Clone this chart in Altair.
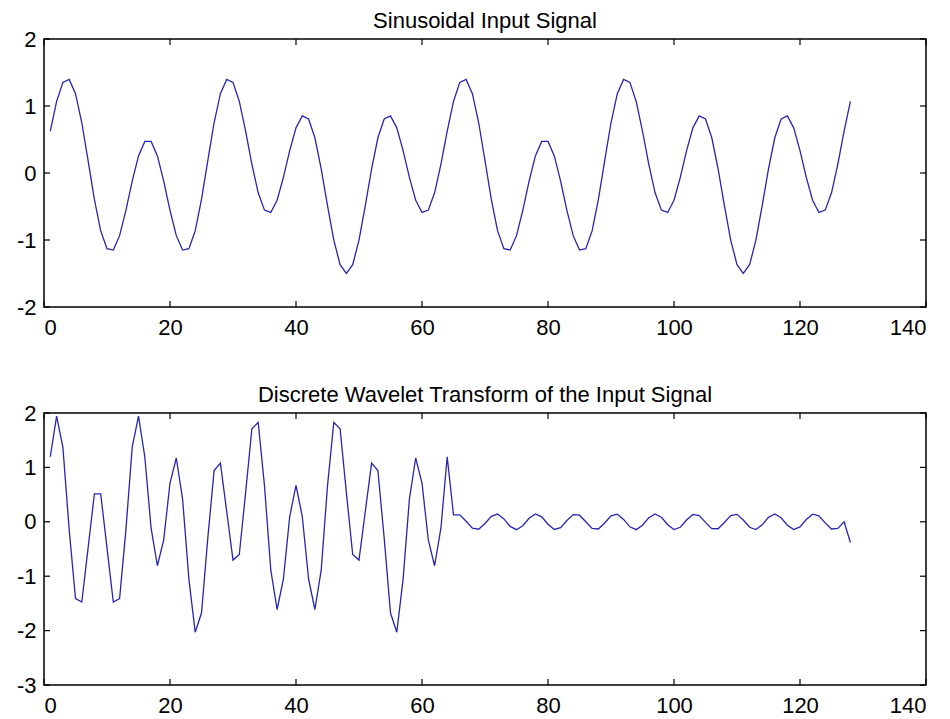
import altair as alt
import pandas as pd

# ---- data ----
sample_index = list(range(1, 129))

input_signal = [
    0.624, 1.068, 1.352, 1.397, 1.184, 0.750, 0.184, -0.394, -0.864, -1.130,
    -1.150, -0.935, -0.557, -0.121, 0.255, 0.472, 0.472, 0.255, -0.121, -0.557,
    -0.935, -1.150, -1.130, -0.864, -0.394, 0.184, 0.750, 1.184, 1.397, 1.352,
    1.068, 0.624, 0.129, -0.296, -0.554, -0.589, -0.406, -0.065, 0.334, 0.674,
    0.853, 0.806, 0.526, 0.062, -0.488, -1.003, -1.369, -1.500, -1.369, -1.003,
    -0.488, 0.062, 0.526, 0.806, 0.853, 0.674, 0.334, -0.065, -0.406, -0.589,
    -0.554, -0.296, 0.129, 0.624, 1.068, 1.352, 1.397, 1.184, 0.750, 0.184,
    -0.394, -0.864, -1.130, -1.150, -0.935, -0.557, -0.121, 0.255, 0.472, 0.472,
    0.255, -0.121, -0.557, -0.935, -1.150, -1.130, -0.864, -0.394, 0.184, 0.750,
    1.184, 1.397, 1.352, 1.068, 0.624, 0.129, -0.296, -0.554, -0.589, -0.406,
    -0.065, 0.334, 0.674, 0.853, 0.806, 0.526, 0.062, -0.488, -1.003, -1.369,
    -1.500, -1.369, -1.003, -0.488, 0.062, 0.526, 0.806, 0.853, 0.674, 0.334,
    -0.065, -0.406, -0.589, -0.554, -0.296, 0.129, 0.624, 1.068,
]

approx_coeffs = [
    1.196, 1.944, 1.368, -0.148, -1.410, -1.474, -0.479, 0.514, 0.514, -0.479,
    -1.474, -1.410, -0.148, 1.368, 1.944, 1.196, -0.118, -0.808, -0.333, 0.713,
    1.173, 0.416, -1.054, -2.029, -1.677, -0.301, 0.942, 1.080, 0.190, -0.704,
    -0.601, 0.532, 1.711, 1.825, 0.660, -0.890, -1.612, -1.055, 0.095, 0.668,
    0.095, -1.055, -1.612, -0.890, 0.660, 1.825, 1.711, 0.532, -0.601, -0.704,
    0.190, 1.080, 0.942, -0.301, -1.677, -2.029, -1.054, 0.416, 1.173, 0.713,
    -0.333, -0.808, -0.118, 1.196,
]

detail_coeffs = [
    0.128, 0.127, 0.010, -0.116, -0.136, -0.032, 0.101, 0.142, 0.053, -0.084,
    -0.145, -0.073, 0.065, 0.144, 0.092, -0.044, -0.140, -0.108, 0.023, 0.132,
    0.121, 0.000, -0.122, -0.132, -0.022, 0.108, 0.140, 0.044, -0.092, -0.144,
    -0.064, 0.074, 0.145, 0.084, -0.054, -0.142, -0.101, 0.032, 0.136, 0.116,
    -0.010, -0.127, -0.128, -0.012, 0.115, 0.137, 0.034, -0.100, -0.143, -0.056,
    0.082, 0.145, 0.075, -0.063, -0.144, -0.094, 0.042, 0.139, 0.109, -0.020,
    -0.132, -0.123, 0.000, -0.380,
]

dwt_signal = approx_coeffs + detail_coeffs

x_ticks = [0, 20, 40, 60, 80, 100, 120, 140]
y_ticks_top = [-2, -1, 0, 1, 2]
y_ticks_bottom = [-3, -2, -1, 0, 1, 2]

title_top = "Sinusoidal Input Signal"
title_bottom = "Discrete Wavelet Transform of the Input Signal"

W = 882
H_TOP = 268
H_BOTTOM = 272
FONT = "Liberation Sans"
LINE_COLOR = "#2626b0"
TICK_LEN = 6


def panel(values, ydomain, yticks, title, height):
    df = pd.DataFrame({"x": sample_index, "y": values})
    xt = pd.DataFrame({"x": x_ticks})
    yt = pd.DataFrame({"y": yticks})
    xenc = alt.X(
        "x:Q",
        scale=alt.Scale(domain=[0, 140], nice=False, zero=False),
        axis=alt.Axis(values=x_ticks, title=None, grid=False, domain=False,
                      ticks=False, tickSize=0, labelPadding=10,
                      labelExpr="'' + datum.value"),
    )
    yenc = alt.Y(
        "y:Q",
        scale=alt.Scale(domain=ydomain, nice=False, zero=False),
        axis=alt.Axis(values=yticks, title=None, grid=False, domain=False,
                      ticks=False, tickSize=0, labelPadding=8,
                      labelExpr="'' + datum.value"),
    )
    line = alt.Chart(df).mark_line(color=LINE_COLOR, strokeWidth=1.3).encode(x=xenc, y=yenc)
    ts = dict(color="black", strokeWidth=1.2)
    x_bot = alt.Chart(xt).mark_rule(**ts).encode(
        x=xenc, y=alt.value(height), y2=alt.value(height - TICK_LEN))
    x_top = alt.Chart(xt).mark_rule(**ts).encode(
        x=xenc, y=alt.value(0), y2=alt.value(TICK_LEN))
    y_left = alt.Chart(yt).mark_rule(**ts).encode(
        y=yenc, x=alt.value(0), x2=alt.value(TICK_LEN))
    y_right = alt.Chart(yt).mark_rule(**ts).encode(
        y=yenc, x=alt.value(W), x2=alt.value(W - TICK_LEN))
    return alt.layer(line, x_bot, x_top, y_left, y_right).properties(
        width=W, height=height,
        title=alt.TitleParams(title, frame="group", offset=-5))


top = panel(input_signal, [-2, 2], y_ticks_top, title_top, H_TOP)
bottom = panel(dwt_signal, [-3, 2], y_ticks_bottom, title_bottom, H_BOTTOM)

chart = (
    alt.vconcat(top, bottom, spacing=44)
    .properties(padding={"left": 7, "top": 1, "right": 5, "bottom": 0},
                background="white")
    .configure_view(stroke="black", strokeWidth=1.5)
    .configure_axis(labelFont=FONT, labelFontSize=22, labelColor="black")
    .configure_title(font=FONT, fontSize=22, fontWeight="normal", color="black",
                     baseline="alphabetic", anchor="middle")
)

chart.save("out.html", embed_options={"renderer": "svg", "actions": False})
